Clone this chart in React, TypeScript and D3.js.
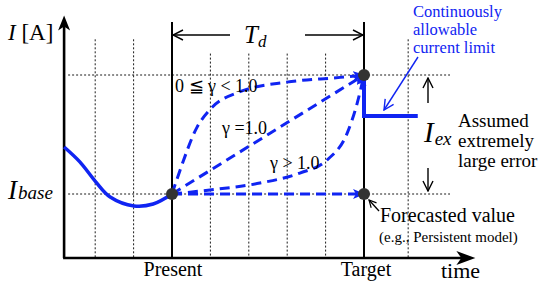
import React from 'react';
import * as d3 from 'd3';

// time axis in grid steps (Present = 0, Target = 5), current in units of I_ex above I_base
const pastTimes = [-2.81, -2.4, -1.98, -1.61, -0.99, -0.49, 0];
const pastCurrent = [0.395, 0.27, 0.1, -0.025, -0.1, -0.084, 0];

const gammaLowT = [0, 0.21, 0.65, 0.99, 1.77, 2.99, 4.38, 5];
const gammaLowI = [0, 0.2, 0.56, 0.71, 0.86, 0.94, 0.98, 1];
const gammaOneT = [0, 5];
const gammaOneI = [0, 1];
const gammaHighT = [0, 0.99, 2.29, 3.33, 4.04, 4.56, 4.82, 5];
const gammaHighI = [0, 0.034, 0.092, 0.176, 0.286, 0.51, 0.76, 1];
const forecastT = [0, 5];
const forecastI = [0, 0];

const limitT = [5, 5, 6.4];
const limitI = [1, 0.655, 0.655];

const gridT = [-2, -1, 1, 2, 3, 4, 6.15];
const gridTopI = [1.3, 1.3, 1.18, 1.18, 1.18, 1.18, 1.3];
const levelI = [0, 1];
const timeTicks = [0, 5];
const timeLabels = ['Present', 'Target'];

const axisT = [-2.81, 7.9];
const axisI = [-0.538, 1.5];

const BLUE = '#1024f2';
const FONT = '"Liberation Serif", "Times New Roman", serif';

const zip = (a: number[], b: number[]) => a.map((v, i) => [v, b[i]] as [number, number]);

export default function App() {
  const x = d3.scaleLinear().domain([0, 5]).range([172, 364]);
  const y = d3.scaleLinear().domain([0, 1]).range([194, 75]);

  const smooth = d3.line<[number, number]>().x(d => x(d[0])).y(d => y(d[1])).curve(d3.curveMonotoneX);
  const rounded = d3.line<[number, number]>().x(d => x(d[0])).y(d => y(d[1])).curve(d3.curveCatmullRom.alpha(0.5));
  const straight = d3.line<[number, number]>().x(d => x(d[0])).y(d => y(d[1]));

  const x0 = x(axisT[0]);
  const yBottom = y(axisI[0]);
  const dash = { stroke: BLUE, strokeWidth: 3, fill: 'none', strokeDasharray: '10 6', markerEnd: 'url(#blueHead)' };

  return (
    <svg width={550} height={288} style={{ position: 'absolute', left: 0, top: 0, background: '#fff', fontFamily: FONT }}>
      <defs>
        <marker id="blueHead" viewBox="0 0 12 10" refX="11" refY="5" markerWidth="12" markerHeight="10" markerUnits="userSpaceOnUse" orient="auto">
          <path d="M0,0 L12,5 L0,10 L3,5 Z" fill={BLUE} />
        </marker>
        <marker id="openBlack" viewBox="0 0 12 12" refX="11" refY="6" markerWidth="12" markerHeight="12" markerUnits="userSpaceOnUse" orient="auto">
          <path d="M1,1 L11,6 L1,11" fill="none" stroke="#000" strokeWidth="1.4" />
        </marker>
        <marker id="openBlue" viewBox="0 0 12 12" refX="11" refY="6" markerWidth="12" markerHeight="12" markerUnits="userSpaceOnUse" orient="auto">
          <path d="M1,1 L11,6 L1,11" fill="none" stroke={BLUE} strokeWidth="1.4" />
        </marker>
        <marker id="smallBlack" viewBox="0 0 10 10" refX="9" refY="5" markerWidth="9" markerHeight="9" markerUnits="userSpaceOnUse" orient="auto">
          <path d="M1,1 L9,5 L1,9" fill="none" stroke="#000" strokeWidth="1.3" />
        </marker>
      </defs>

      {/* dotted grid */}
      {gridT.map((t, i) => (
        <line key={'g' + i} x1={x(t)} x2={x(t)} y1={y(gridTopI[i])} y2={yBottom} stroke="#000" strokeWidth={0.9} strokeDasharray="2 2" />
      ))}
      {levelI.map((v, i) => (
        <line key={'h' + i} x1={x0 + 4} x2={450} y1={y(v)} y2={y(v)} stroke="#000" strokeWidth={0.9} strokeDasharray="2 2" />
      ))}

      {/* Present / Target */}
      {timeTicks.map((t, i) => (
        <g key={'t' + i}>
          <line x1={x(t)} x2={x(t)} y1={22} y2={yBottom} stroke="#000" strokeWidth={2} />
          <text x={x(t) + (i === 1 ? 2 : 1)} y={276} textAnchor="middle" fontSize={20}>{timeLabels[i]}</text>
        </g>
      ))}

      {/* axes */}
      <line x1={x0} x2={x0} y1={yBottom} y2={y(axisI[1]) + 10} stroke="#000" strokeWidth={2.6} />
      <path d={`M${x0},${y(axisI[1])} L${x0 + 6},${y(axisI[1]) + 15} L${x0},${y(axisI[1]) + 11} L${x0 - 6},${y(axisI[1]) + 15} Z`} fill="#000" />
      <line x1={x0 - 1} x2={x(axisT[1]) - 12} y1={yBottom} y2={yBottom} stroke="#000" strokeWidth={2.6} />
      <path d={`M${x(axisT[1])},${yBottom} L${x(axisT[1]) - 19},${yBottom - 7} L${x(axisT[1]) - 14},${yBottom} L${x(axisT[1]) - 19},${yBottom + 7} Z`} fill="#000" />

      <text x={8} y={40} fontSize={23}><tspan fontStyle="italic">I</tspan> [A]</text>
      <text x={8} y={199} fontSize={27} fontStyle="italic">I<tspan fontSize={19} dx={1}>base</tspan></text>
      <text x={441} y={278} fontSize={22}>time</text>

      {/* T_d span */}
      <line x1={230} x2={x(0) + 1} y1={35} y2={35} stroke="#000" strokeWidth={1.4} markerEnd="url(#openBlack)" />
      <line x1={305} x2={x(5) - 1} y1={35} y2={35} stroke="#000" strokeWidth={1.4} markerEnd="url(#openBlack)" />
      <text x={244} y={43} fontSize={25} fontStyle="italic">T<tspan fontSize={17} dy={4}>d</tspan></text>

      {/* past current */}
      <path d={rounded(zip(pastTimes, pastCurrent)) || ''} fill="none" stroke={BLUE} strokeWidth={3.5} />

      {/* possible trajectories */}
      <path d={smooth(zip(gammaLowT, gammaLowI)) || ''} {...dash} />
      <path d={straight(zip(gammaOneT, gammaOneI)) || ''} {...dash} />
      <path d={smooth(zip(gammaHighT, gammaHighI)) || ''} {...dash} />
      <path d={straight(zip(forecastT, forecastI)) || ''} {...dash} />

      <text x={175} y={92} fontSize={18}>0 ≦ γ &lt; 1.0</text>
      <text x={222} y={134} fontSize={18}>γ =1.0</text>
      <text x={270} y={169} fontSize={18}>γ &gt; 1.0</text>

      {/* allowable limit */}
      <path d={straight(zip(limitT, limitI)) || ''} fill="none" stroke={BLUE} strokeWidth={4} />

      <circle cx={x(0)} cy={y(0)} r={6} fill="#333" />
      <circle cx={x(5)} cy={y(1)} r={6} fill="#333" />
      <circle cx={x(5)} cy={y(0)} r={6} fill="#333" />

      <g fill={BLUE} fontSize={16.5}>
        <text x={413} y={17}>Continuously</text>
        <text x={413} y={35}>allowable</text>
        <text x={413} y={53}>current limit</text>
      </g>
      <line x1={418} y1={57} x2={384} y2={110} stroke={BLUE} strokeWidth={1.4} markerEnd="url(#openBlue)" />

      {/* error band */}
      <line x1={428} x2={428} y1={103} y2={78} stroke="#000" strokeWidth={1.4} markerEnd="url(#openBlack)" />
      <line x1={428} x2={428} y1={168} y2={191} stroke="#000" strokeWidth={1.4} markerEnd="url(#openBlack)" />
      <text x={424} y={142} fontSize={29} fontStyle="italic">I<tspan fontSize={19} dx={1} dy={3}>ex</tspan></text>
      <g fontSize={19}>
        <text x={458} y={127}>Assumed</text>
        <text x={458} y={147}>extremely</text>
        <text x={458} y={167}>large error</text>
      </g>

      <line x1={379} y1={211} x2={369} y2={200} stroke="#000" strokeWidth={1.3} markerEnd="url(#smallBlack)" />
      <text x={380} y={222} fontSize={20}>Forecasted value</text>
      <text x={379} y={242} fontSize={15}>(e.g., Persistent model)</text>
    </svg>
  );
}
